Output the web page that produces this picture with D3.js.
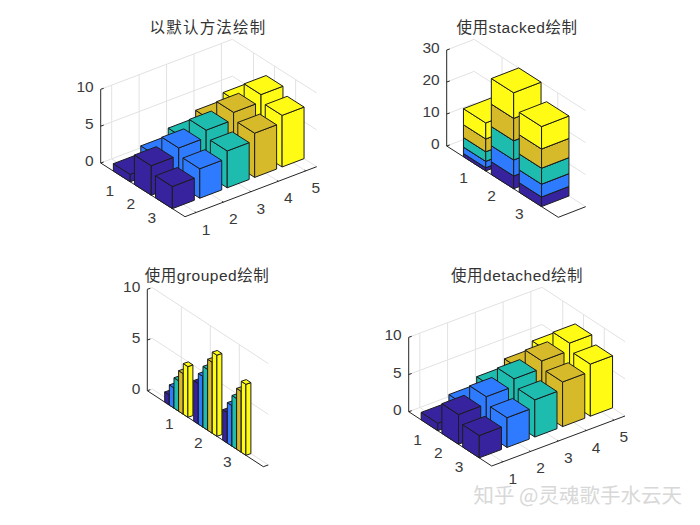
<!DOCTYPE html>
<html>
<head>
<meta charset="utf-8">
<script src="https://cdnjs.cloudflare.com/ajax/libs/d3/7.8.5/d3.min.js"></script>
<style>html,body{margin:0;padding:0;background:#fff;overflow:hidden}svg{display:block}</style>
</head>
<body>
<svg id="chart" width="700" height="525"></svg>
<script>
// ---------- data ----------
const rows = [1, 2, 3];
const seriesIndex = [1, 2, 3, 4, 5];
const row1Values = [1, 2, 3, 4, 5];
const row2Values = [4, 5, 6, 7, 8];
const row3Values = [3, 4, 5, 6, 7];
const rowValues = [row1Values, row2Values, row3Values];
const seriesColors = ["#38239f", "#2e7bff", "#1ebcae", "#d6ba2a", "#fffb14"];
const zTicks10 = [0, 5, 10];
const zTicks30 = [0, 10, 20, 30];
const titles = ["以默认方法绘制", "使用stacked绘制", "使用grouped绘制", "使用detached绘制"];
const watermark = "知乎 @灵魂歌手水云天";

// ---------- layout of each panel ----------
const panels = [
  {mode: "detached", title: titles[0], titleX: 208, titleY: 33, titleSpacing: 1.2,
   left: [100.7, 163], front: [185, 216.7], right: [316.7, 166.7], zPx: 73.7,
   xDomain: [0.6, 5.4], yDomain: [0, 4], zDomain: [0, 10], xTicks: seriesIndex, zTicks: zTicks10,
   yLabel: [-12, 14], xLabel: [10, 16.5]},
  {mode: "stacked", title: titles[1], titleX: 517, titleY: 33, titleSpacing: 0.5,
   left: [446.7, 146], front: [558.3, 217.3], right: [585.7, 206.7], zPx: 96,
   xDomain: [0.6, 1.4], yDomain: [0, 4], zDomain: [0, 30], xTicks: [], zTicks: zTicks30,
   yLabel: [-11, 14], xLabel: [0, 0]},
  {mode: "grouped", title: titles[2], titleX: 207, titleY: 281, titleSpacing: 0.5,
   left: [147.3, 390.7], front: [263.3, 466.7], right: [268.3, 465], zPx: 101.4,
   xDomain: [0.92, 1.08], yDomain: [0, 4], zDomain: [0, 10], xTicks: [], zTicks: zTicks10,
   yLabel: [-7, 14], xLabel: [0, 0]},
  {mode: "detached", title: titles[3], titleX: 517, titleY: 281, titleSpacing: 0.5,
   left: [408.7, 411.7], front: [491.7, 466], right: [625, 416], zPx: 74.4,
   xDomain: [0.6, 5.4], yDomain: [0, 4], zDomain: [0, 10], xTicks: seriesIndex, zTicks: zTicks10,
   yLabel: [-12, 14], xLabel: [10, 16.5]}
];

const svg = d3.select("#chart");
const axisColor = "#262626", gridColor = "#e2e2e2", textColor = "#3a3a3a";
const fontFamily = "'Liberation Sans','Noto Sans CJK SC',sans-serif";
const line = d3.line();

function drawPanel(p) {
  const g = svg.append("g");
  const vx = [p.right[0] - p.front[0], p.right[1] - p.front[1]];
  const vy = [p.front[0] - p.left[0], p.front[1] - p.left[1]];
  const sx = d3.scaleLinear().domain(p.xDomain).range([0, 1]);
  const sy = d3.scaleLinear().domain(p.yDomain).range([0, 1]);
  const sz = d3.scaleLinear().domain(p.zDomain).range([0, p.zPx]);
  const P = (x, y, z) => [
    p.left[0] + sx(x) * vx[0] + sy(y) * vy[0],
    p.left[1] + sx(x) * vx[1] + sy(y) * vy[1] - sz(z)
  ];
  const [x0, x1] = p.xDomain, [y0, y1] = p.yDomain, [z0, z1] = p.zDomain;

  // grid on the two back walls and the floor
  const grid = [];
  p.zTicks.forEach(z => {
    grid.push([P(x0, y0, z), P(x1, y0, z)]);
    grid.push([P(x1, y0, z), P(x1, y1, z)]);
  });
  p.xTicks.forEach(x => {
    grid.push([P(x, y0, z0), P(x, y0, z1)]);
    grid.push([P(x, y0, z0), P(x, y1, z0)]);
  });
  rows.forEach(y => {
    grid.push([P(x1, y, z0), P(x1, y, z1)]);
    grid.push([P(x0, y, z0), P(x1, y, z0)]);
  });
  g.append("g").selectAll("path").data(grid).join("path")
    .attr("d", line).attr("fill", "none").attr("stroke", gridColor).attr("stroke-width", 1);

  // axes
  const axes = [
    [P(x0, y0, z0), P(x0, y0, z1)],
    [P(x0, y0, z0), P(x0, y1, z0)],
    [P(x0, y1, z0), P(x1, y1, z0)]
  ];
  const tickFrac = 0.014;
  p.zTicks.forEach(z => axes.push([P(x0, y0, z), [P(x0, y0, z)[0] + 3, P(x0, y0, z)[1] - 1]]));
  rows.forEach(y => {
    const a = P(x0, y, z0);
    axes.push([a, [a[0] + vx[0] / Math.hypot(vx[0], vx[1]) * 3, a[1] + vx[1] / Math.hypot(vx[0], vx[1]) * 3]]);
  });
  p.xTicks.forEach(x => {
    const a = P(x, y1, z0);
    axes.push([a, [a[0] - vy[0] * tickFrac, a[1] - vy[1] * tickFrac]]);
  });
  g.append("g").selectAll("path").data(axes).join("path")
    .attr("d", line).attr("fill", "none").attr("stroke", axisColor).attr("stroke-width", 1);

  // bars as boxes, ordered back to front
  const boxes = [];
  if (p.mode === "detached") {
    seriesIndex.slice().reverse().forEach(s => rows.forEach(r => {
      boxes.push({x: [s - 0.4, s + 0.4], y: [r - 0.4, r + 0.4], z: [0, rowValues[r - 1][s - 1]], c: seriesColors[s - 1]});
    }));
  } else if (p.mode === "stacked") {
    rows.forEach(r => {
      let base = 0;
      seriesIndex.forEach(s => {
        const v = rowValues[r - 1][s - 1];
        boxes.push({x: [0.6, 1.4], y: [r - 0.4, r + 0.4], z: [base, base + v], c: seriesColors[s - 1]});
        base += v;
      });
    });
  } else {
    const w = 0.8 / seriesIndex.length;
    rows.forEach(r => seriesIndex.forEach(s => {
      const a = r - 0.4 + (s - 1) * w;
      boxes.push({x: p.xDomain, y: [a, a + w], z: [0, rowValues[r - 1][s - 1]], c: seriesColors[s - 1]});
    }));
  }
  const faces = [];
  boxes.forEach(b => {
    const [xa, xb] = b.x, [ya, yb] = b.y, [za, zb] = b.z;
    faces.push({c: b.c, pts: [P(xa, ya, za), P(xa, yb, za), P(xa, yb, zb), P(xa, ya, zb)]});
    faces.push({c: b.c, pts: [P(xa, yb, za), P(xb, yb, za), P(xb, yb, zb), P(xa, yb, zb)]});
    faces.push({c: b.c, pts: [P(xa, ya, zb), P(xa, yb, zb), P(xb, yb, zb), P(xb, ya, zb)]});
  });
  g.append("g").selectAll("path").data(faces).join("path")
    .attr("d", d => line(d.pts) + "Z")
    .attr("fill", d => d.c)
    .attr("stroke", "#1c1c1c").attr("stroke-width", 1).attr("stroke-linejoin", "round");

  // labels
  const txt = g.append("g").attr("font-family", fontFamily).attr("font-size", 15.5).attr("fill", textColor);
  txt.selectAll("text.z").data(p.zTicks).join("text").attr("class", "z")
    .attr("x", p.left[0] - 7).attr("y", z => P(x0, y0, z)[1] + 3)
    .attr("text-anchor", "end").text(z => z);
  txt.selectAll("text.y").data(rows).join("text").attr("class", "y")
    .attr("x", y => P(x0, y, z0)[0] + p.yLabel[0]).attr("y", y => P(x0, y, z0)[1] + p.yLabel[1] + 5.5)
    .attr("text-anchor", "middle").text(y => y);
  txt.selectAll("text.x").data(p.xTicks).join("text").attr("class", "x")
    .attr("x", x => P(x, y1, z0)[0] + p.xLabel[0]).attr("y", x => P(x, y1, z0)[1] + p.xLabel[1] + 5.5)
    .attr("text-anchor", "middle").text(x => x);
  g.append("text").attr("x", p.titleX).attr("y", p.titleY)
    .attr("text-anchor", "middle").attr("font-family", fontFamily).attr("font-size", 15.5)
    .attr("letter-spacing", p.titleSpacing).attr("fill", "#333").text(p.title);
}

panels.forEach(drawPanel);

svg.append("text").attr("x", 682).attr("y", 503).attr("text-anchor", "end")
  .attr("font-family", "'Noto Sans CJK SC',sans-serif").attr("font-size", 20.5)
  .attr("fill", "#d8d8d8").text(watermark);
</script>
</body>
</html>
